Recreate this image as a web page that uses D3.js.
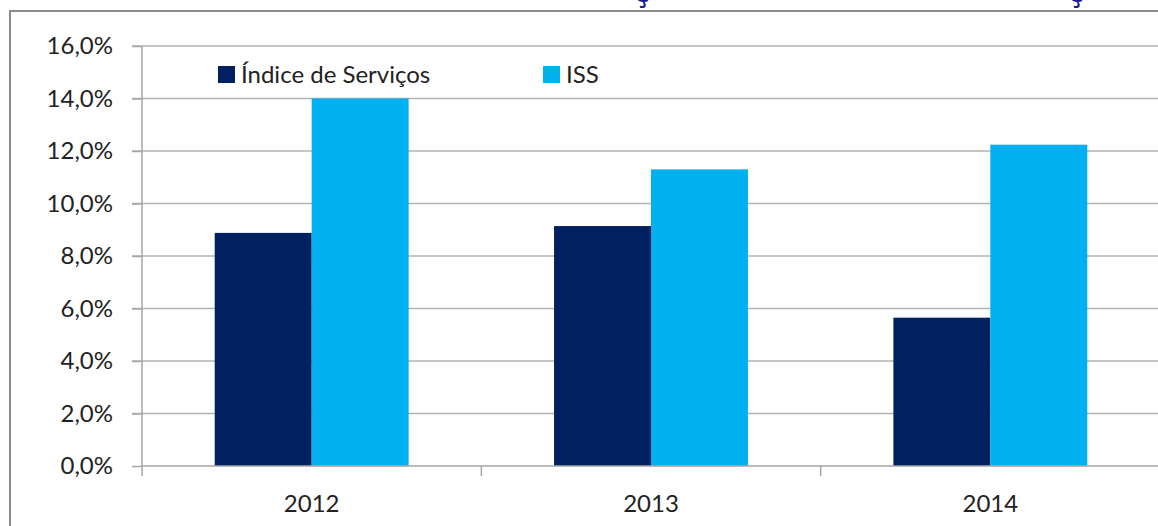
<!DOCTYPE html>
<html>
<head>
<meta charset="utf-8">
<script src="https://cdn.jsdelivr.net/npm/d3@7"></script>
<style>
  html, body { margin: 0; padding: 0; background: #fff; overflow: hidden; }
  svg { display: block; }
</style>
</head>
<body>
<div class="chart"></div>
<script>
// data
var years = ["2012", "2013", "2014"];
var seriesNames = ["Índice de Serviços", "ISS"];
var indiceServicos = [8.88, 9.14, 5.65];
var iss = [14.0, 11.30, 12.24];
var yTicks = [0, 2, 4, 6, 8, 10, 12, 14, 16];
var colors = ["#002060", "#00B0F0"];

var width = 1158, height = 526;
var plotLeft = 142, plotRight = 1160, plotTop = 46, plotBottom = 466;

var svg = d3.select(".chart").append("svg")
  .attr("width", width)
  .attr("height", height);

// outer chart border (runs past right/bottom edge)
svg.append("rect")
  .attr("x", 10).attr("y", 11)
  .attr("width", 1200).attr("height", 600)
  .attr("fill", "none")
  .attr("stroke", "#8c8c8c")
  .attr("stroke-width", 2);

// clipped title descenders peeking in at the top
svg.selectAll(".cut").data([642, 1076]).enter().append("text")
  .attr("class", "cut")
  .attr("x", function(d){ return d; })
  .attr("y", 2)
  .attr("text-anchor", "middle")
  .style("font-family", "'DejaVu Sans', sans-serif")
  .style("font-weight", "bold")
  .style("font-size", "26px")
  .attr("fill", "#1a1a8c")
  .text("ç");

var y = d3.scaleLinear().domain([0, 16]).range([plotBottom, plotTop]);
var x0 = d3.scaleBand().domain(years).range([plotLeft, plotRight]).padding(0);
var x1 = d3.scaleBand().domain(seriesNames).range([0, x0.bandwidth()])
  .paddingInner(0).paddingOuter(0.75);

var fmt = function(d){ return d.toFixed(1).replace(".", ",") + "%"; };

// gridlines
svg.append("g").selectAll("line").data(yTicks.filter(function(d){ return d > 0; }))
  .enter().append("line")
  .attr("x1", plotLeft - 10).attr("x2", plotRight)
  .attr("y1", function(d){ return y(d); })
  .attr("y2", function(d){ return y(d); })
  .attr("stroke", "#b3b3b3")
  .attr("stroke-width", 1.5);

// bars
var rows = years.map(function(yr, i){
  return { year: yr, vals: [indiceServicos[i], iss[i]] };
});

var groups = svg.append("g").selectAll("g").data(rows).enter().append("g")
  .attr("transform", function(d){ return "translate(" + x0(d.year) + ",0)"; });

groups.selectAll("rect")
  .data(function(d){ return d.vals.map(function(v, j){ return { name: seriesNames[j], v: v, c: colors[j] }; }); })
  .enter().append("rect")
  .attr("x", function(d){ return x1(d.name); })
  .attr("y", function(d){ return y(d.v); })
  .attr("width", x1.bandwidth())
  .attr("height", function(d){ return plotBottom - y(d.v); })
  .attr("fill", function(d){ return d.c; });

// y axis
var yAxis = d3.axisLeft(y).tickValues(yTicks).tickFormat(fmt).tickSize(10).tickPadding(19);
var ya = svg.append("g")
  .attr("transform", "translate(" + plotLeft + ",0)")
  .call(yAxis);
ya.select(".domain").remove();
ya.selectAll(".tick line").attr("stroke", "#a6a6a6").attr("stroke-width", 1.5);
ya.selectAll("text")
  .style("font-family", "Lato, 'Open Sans', sans-serif")
  .style("font-size", "24px")
  .attr("fill", "#222");
svg.append("line")
  .attr("x1", plotLeft).attr("x2", plotLeft)
  .attr("y1", plotTop).attr("y2", plotBottom + 10)
  .attr("stroke", "#a6a6a6").attr("stroke-width", 1.5);

// x axis
svg.append("line")
  .attr("x1", plotLeft).attr("x2", plotRight)
  .attr("y1", plotBottom).attr("y2", plotBottom)
  .attr("stroke", "#a6a6a6").attr("stroke-width", 1.5);
svg.append("g").selectAll("line").data(years.slice(1)).enter().append("line")
  .attr("x1", function(d){ return x0(d); })
  .attr("x2", function(d){ return x0(d); })
  .attr("y1", plotBottom).attr("y2", plotBottom + 10)
  .attr("stroke", "#a6a6a6").attr("stroke-width", 1.5);
svg.append("g").selectAll("text").data(years).enter().append("text")
  .attr("x", function(d){ return x0(d) + x0.bandwidth() / 2; })
  .attr("y", 512)
  .attr("text-anchor", "middle")
  .style("font-family", "Lato, 'Open Sans', sans-serif")
  .style("font-size", "24px")
  .attr("fill", "#222")
  .text(function(d){ return d; });

// legend
var legendX = [218, 543];
var leg = svg.append("g").selectAll("g").data(seriesNames).enter().append("g")
  .attr("transform", function(d, i){ return "translate(" + legendX[i] + ",66)"; });
leg.append("rect")
  .attr("width", 17).attr("height", 17)
  .attr("fill", function(d, i){ return colors[i]; });
leg.append("text")
  .attr("x", 23).attr("y", 17)
  .style("font-family", "Lato, 'Open Sans', sans-serif")
  .style("font-size", "24px")
  .attr("fill", "#222")
  .text(function(d){ return d; });
</script>
</body>
</html>
